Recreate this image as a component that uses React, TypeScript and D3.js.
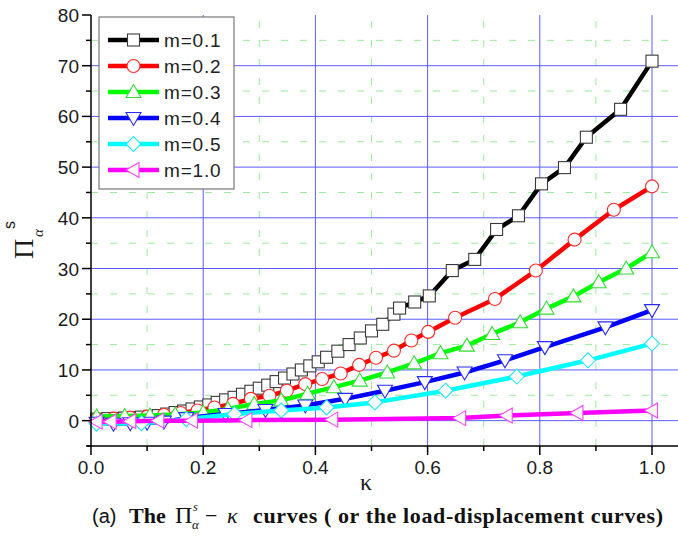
import React from "react";
import * as d3 from "d3";

// ---------- data ----------
const seriesNames = ["m=0.1", "m=0.2", "m=0.3", "m=0.4", "m=0.5", "m=1.0"];

const kappa01 = [0.01, 0.03, 0.045, 0.06, 0.075, 0.09, 0.105, 0.12, 0.135, 0.15, 0.165, 0.18, 0.195, 0.21, 0.225, 0.24, 0.255, 0.27, 0.285, 0.3, 0.315, 0.33, 0.345, 0.36, 0.375, 0.39, 0.405, 0.42, 0.44, 0.46, 0.48, 0.5, 0.52, 0.54, 0.55, 0.577, 0.603, 0.644, 0.684, 0.723, 0.762, 0.803, 0.844, 0.883, 0.944, 1.0];
const pi01 = [0.3, 0.4, 0.45, 0.5, 0.6, 0.7, 0.85, 1.0, 1.3, 1.6, 1.9, 2.3, 2.7, 3.1, 3.6, 4.1, 4.6, 5.2, 5.8, 6.4, 7.0, 7.7, 8.4, 9.2, 10.0, 10.8, 11.6, 12.5, 13.7, 15.0, 16.3, 17.7, 19.0, 21.0, 22.2, 23.4, 24.6, 29.6, 31.8, 37.7, 40.4, 46.7, 49.9, 55.9, 61.4, 70.9];

const kappa02 = [0.01, 0.04, 0.07, 0.1, 0.13, 0.16, 0.19, 0.22, 0.253, 0.285, 0.318, 0.349, 0.382, 0.412, 0.445, 0.478, 0.508, 0.54, 0.571, 0.601, 0.649, 0.72, 0.793, 0.862, 0.932, 1.0];
const pi02 = [0.3, 0.4, 0.6, 0.8, 1.1, 1.5, 2.0, 2.6, 3.3, 4.3, 4.9, 5.9, 7.2, 8.2, 9.3, 11.0, 12.4, 13.8, 15.8, 17.5, 20.3, 24.0, 29.6, 35.7, 41.6, 46.2];

const kappa03 = [0.01, 0.06, 0.105, 0.15, 0.2, 0.244, 0.291, 0.339, 0.386, 0.433, 0.479, 0.528, 0.576, 0.623, 0.67, 0.715, 0.765, 0.812, 0.86, 0.905, 0.954, 1.0];
const pi03 = [0.8, 0.9, 1.0, 1.2, 1.6, 2.3, 3.3, 4.0, 5.3, 6.6, 7.9, 9.5, 11.3, 13.3, 14.8, 17.1, 19.4, 22.1, 24.5, 27.3, 30.0, 33.2];

const kappa04 = [0.01, 0.04, 0.07, 0.1, 0.13, 0.17, 0.24, 0.311, 0.382, 0.453, 0.524, 0.595, 0.666, 0.738, 0.809, 0.917, 1.0];
const pi04 = [-0.4, -0.6, -0.5, -0.4, -0.2, 0.5, 1.3, 2.1, 3.0, 4.3, 5.9, 7.6, 9.5, 11.9, 14.5, 18.4, 21.8];

const kappa05 = [0.01, 0.09, 0.17, 0.256, 0.339, 0.42, 0.506, 0.632, 0.759, 0.886, 1.0];
const pi05 = [-0.6, -0.5, 0.3, 1.3, 2.0, 2.6, 3.6, 5.9, 8.7, 11.9, 15.2];

const kappa10 = [0.01, 0.035, 0.07, 0.12, 0.18, 0.277, 0.43, 0.658, 0.741, 0.867, 1.0];
const pi10 = [-0.2, -0.2, -0.1, 0.0, 0.0, 0.1, 0.2, 0.5, 1.0, 1.5, 2.0];

const xTicks = [0, 0.2, 0.4, 0.6, 0.8, 1.0];
const xMinor = [0.1, 0.3, 0.5, 0.7, 0.9];
const yTicks = [0, 10, 20, 30, 40, 50, 60, 70, 80];
const yMinor = [-5, 5, 15, 25, 35, 45, 55, 65, 75];

const kappaSets = [kappa01, kappa02, kappa03, kappa04, kappa05, kappa10];
const piSets = [pi01, pi02, pi03, pi04, pi05, pi10];

// ---------- styles ----------
const lineColors = ["#000000", "#ff0000", "#00ff00", "#0000ff", "#00ffff", "#ff00ff"];
const markerColors = ["#3a3a3a", "#ff2a2a", "#33dd33", "#2a2aff", "#22e8f0", "#ff44ff"];
const shapes = ["square", "circle", "up", "down", "diamond", "left"];

const W = 678;
const H = 536;
const PX0 = 91;
const PX1 = 652;
const PY_TOP = 15;
const PY_BOT = 446;
const GRID_RIGHT = 678;

function Marker({ shape, x, y, stroke }: { shape: string; x: number; y: number; stroke: string }) {
  const common = { fill: "#ffffff", stroke, strokeWidth: 1.1 };
  switch (shape) {
    case "square":
      return <rect x={x - 6} y={y - 6} width={12} height={12} {...common} />;
    case "circle":
      return <circle cx={x} cy={y} r={6.5} {...common} />;
    case "up":
      return <path d={`M${x},${y - 7.5}L${x + 7.5},${y + 5.5}L${x - 7.5},${y + 5.5}Z`} {...common} />;
    case "down":
      return <path d={`M${x},${y + 7.5}L${x + 7.5},${y - 5.5}L${x - 7.5},${y - 5.5}Z`} {...common} />;
    case "diamond":
      return <path d={`M${x},${y - 7.5}L${x + 7.5},${y}L${x},${y + 7.5}L${x - 7.5},${y}Z`} {...common} />;
    case "left":
      return <path d={`M${x - 7.5},${y}L${x + 5.5},${y - 7.5}L${x + 5.5},${y + 7.5}Z`} {...common} />;
    default:
      return null;
  }
}

export default function App() {
  const x = d3.scaleLinear().domain([0, 1]).range([PX0, PX1]);
  const y = d3.scaleLinear().domain([-5, 80]).range([PY_BOT, PY_TOP]);
  const line = d3
    .line<[number, number]>()
    .x((d) => x(d[0]))
    .y((d) => y(d[1]));

  const sans = "'Liberation Sans', Arial, sans-serif";
  const serif = "'Liberation Serif', 'Times New Roman', serif";

  const legendX = 99;
  const legendY = 17;
  const legendRowY = (i: number) => 40 + i * 26;

  return (
    <svg width={W} height={H} style={{ display: "block", position: "absolute", left: 0, top: 0 }}>
      <rect x={0} y={0} width={W} height={H} fill="#ffffff" />

      {/* minor grid (green dashed) */}
      {yMinor.filter((v) => v > -5).map((v) => (
        <line key={"gym" + v} x1={PX0} x2={GRID_RIGHT} y1={y(v)} y2={y(v)} stroke="#98ec98" strokeWidth={1} strokeDasharray="7,12" />
      ))}
      {xMinor.map((v) => (
        <line key={"gxm" + v} x1={x(v)} x2={x(v)} y1={PY_BOT} y2={PY_TOP} stroke="#98ec98" strokeWidth={1} strokeDasharray="7,12" />
      ))}
      {/* major grid (blue) */}
      {yTicks.filter((v) => v < 80).map((v) => (
        <line key={"gy" + v} x1={PX0} x2={GRID_RIGHT} y1={y(v)} y2={y(v)} stroke="#5c5cff" strokeWidth={1} />
      ))}
      {xTicks.filter((v) => v > 0).map((v) => (
        <line key={"gx" + v} x1={x(v)} x2={x(v)} y1={PY_BOT} y2={PY_TOP} stroke="#5c5cff" strokeWidth={1} />
      ))}

      {/* series */}
      {kappaSets.map((ks, si) => {
        const pts: [number, number][] = ks.map((k, i) => [k, piSets[si][i]]);
        return (
          <g key={"s" + si}>
            <path d={line(pts) || ""} fill="none" stroke={lineColors[si]} strokeWidth={4.5} strokeLinejoin="round" />
            {pts.map((p, i) => (
              <Marker key={i} shape={shapes[si]} x={x(p[0])} y={y(p[1])} stroke={markerColors[si]} />
            ))}
          </g>
        );
      })}

      {/* axes */}
      <line x1={PX0} x2={PX0} y1={PY_TOP} y2={PY_BOT} stroke="#000" strokeWidth={1.5} />
      <line x1={PX0 - 4} x2={GRID_RIGHT} y1={PY_BOT} y2={PY_BOT} stroke="#000" strokeWidth={1.5} />
      {yTicks.map((v) => (
        <g key={"yt" + v}>
          <line x1={PX0 - 9} x2={PX0} y1={y(v)} y2={y(v)} stroke="#000" strokeWidth={1.5} />
          <text x={79} y={y(v) + 7} textAnchor="end" fontFamily={sans} fontSize={19} fill="#1a1a1a">
            {v}
          </text>
        </g>
      ))}
      {yMinor.map((v) => (
        <line key={"ym" + v} x1={PX0 - 5} x2={PX0} y1={y(v)} y2={y(v)} stroke="#000" strokeWidth={1.5} />
      ))}
      {xTicks.map((v) => (
        <g key={"xt" + v}>
          <line x1={x(v)} x2={x(v)} y1={PY_BOT} y2={PY_BOT + 9} stroke="#000" strokeWidth={1.5} />
          <text x={x(v)} y={474} textAnchor="middle" fontFamily={sans} fontSize={19} fill="#1a1a1a">
            {d3.format(".1f")(v)}
          </text>
        </g>
      ))}
      {xMinor.map((v) => (
        <line key={"xm" + v} x1={x(v)} x2={x(v)} y1={PY_BOT} y2={PY_BOT + 5} stroke="#000" strokeWidth={1.5} />
      ))}

      {/* axis titles */}
      <text x={366} y={490} textAnchor="middle" fontFamily={serif} fontSize={24} fill="#1a1a1a">
        κ
      </text>
      <g transform="translate(33,259) rotate(-90)">
        <text x={0} y={0} fontFamily={serif} fontSize={28} fill="#1a1a1a">
          Π
        </text>
        <text x={22} y={10} fontFamily={serif} fontStyle="italic" fontSize={15} fill="#1a1a1a">
          α
        </text>
        <text x={30} y={-18} fontFamily={sans} fontSize={16} fill="#1a1a1a">
          s
        </text>
      </g>

      {/* legend */}
      <rect x={legendX} y={legendY} width={135} height={172} fill="#ffffff" stroke="#777777" strokeWidth={1.2} />
      {seriesNames.map((name, i) => (
        <g key={"lg" + i}>
          <line x1={108} x2={159} y1={legendRowY(i)} y2={legendRowY(i)} stroke={lineColors[i]} strokeWidth={4.5} />
          <Marker shape={shapes[i]} x={133.5} y={legendRowY(i)} stroke={markerColors[i]} />
          <text x={164} y={legendRowY(i) + 7} fontFamily={sans} fontSize={19} fill="#222" letterSpacing={0.8}>
            {name}
          </text>
        </g>
      ))}

      {/* caption */}
      <text x={92} y={523} fontFamily={sans} fontSize={20} fill="#111">
        (a)
      </text>
      <text x={129} y={523} fontFamily={serif} fontWeight="bold" fontSize={22} fill="#111">
        The
      </text>
      <text x={175} y={523} fontFamily={serif} fontSize={24} fill="#111">
        Π
      </text>
      <text x={193} y={511} fontFamily={serif} fontStyle="italic" fontSize={12} fill="#111">
        s
      </text>
      <text x={192} y={529} fontFamily={serif} fontStyle="italic" fontSize={13} fill="#111">
        α
      </text>
      <text x={205} y={523} fontFamily={serif} fontSize={22} fill="#111">
        −
      </text>
      <text x={227} y={523} fontFamily={serif} fontStyle="italic" fontSize={22} fill="#111">
        κ
      </text>
      <text x={253} y={523} fontFamily={serif} fontWeight="bold" fontSize={22} fill="#111" textLength={410} lengthAdjust="spacing">
        curves ( or the load-displacement curves)
      </text>
    </svg>
  );
}
